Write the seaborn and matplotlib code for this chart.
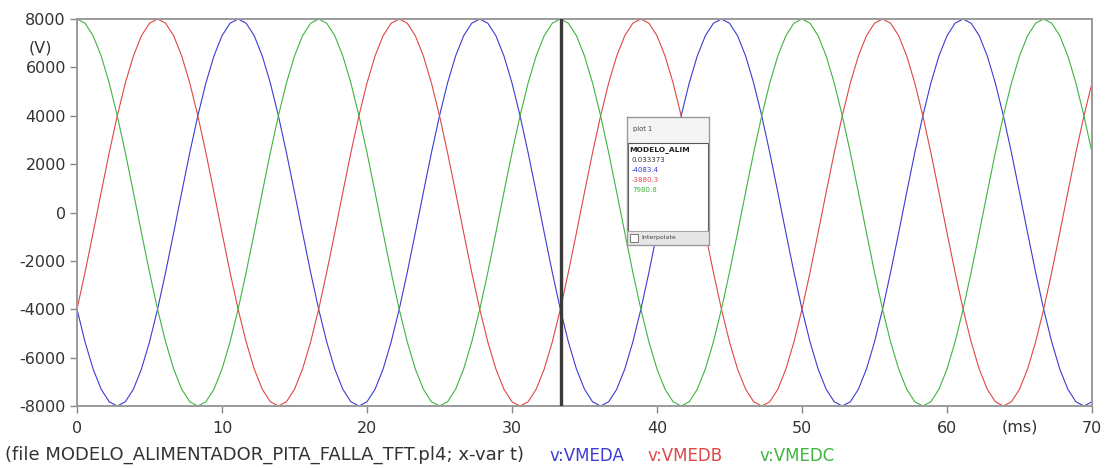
import numpy as np
import pandas as pd
import matplotlib
matplotlib.use("Agg")
import matplotlib.pyplot as plt
from matplotlib.patches import Rectangle
import seaborn as sns

# Sampled phase voltages (V), 126 steps over 0..70 ms
n_samples = 127
t_ms = np.linspace(0, 70, n_samples)

vmeda = [
    -4000, -5353, -6472, -7308, -7825, -8000, -7825, -7308, -6472, -5353, -4000, -2472, -836,
    836, 2472, 4000, 5353, 6472, 7308, 7825, 8000, 7825, 7308, 6472, 5353, 4000, 2472, 836,
    -836, -2472, -4000, -5353, -6472, -7308, -7825, -8000, -7825, -7308, -6472, -5353, -4000, -2472, -836,
    836, 2472, 4000, 5353, 6472, 7308, 7825, 8000, 7825, 7308, 6472, 5353, 4000, 2472, 836,
    -836, -2472, -4000, -5353, -6472, -7308, -7825, -8000, -7825, -7308, -6472, -5353, -4000, -2472, -836,
    836, 2472, 4000, 5353, 6472, 7308, 7825, 8000, 7825, 7308, 6472, 5353, 4000, 2472, 836,
    -836, -2472, -4000, -5353, -6472, -7308, -7825, -8000, -7825, -7308, -6472, -5353, -4000, -2472, -836,
    836, 2472, 4000, 5353, 6472, 7308, 7825, 8000, 7825, 7308, 6472, 5353, 4000, 2472, 836,
    -836, -2472, -4000, -5353, -6472, -7308, -7825, -8000, -7825,
]

vmedb = [
    -4000, -2472, -836,
    836, 2472, 4000, 5353, 6472, 7308, 7825, 8000, 7825, 7308, 6472, 5353, 4000, 2472, 836,
    -836, -2472, -4000, -5353, -6472, -7308, -7825, -8000, -7825, -7308, -6472, -5353, -4000, -2472, -836,
    836, 2472, 4000, 5353, 6472, 7308, 7825, 8000, 7825, 7308, 6472, 5353, 4000, 2472, 836,
    -836, -2472, -4000, -5353, -6472, -7308, -7825, -8000, -7825, -7308, -6472, -5353, -4000, -2472, -836,
    836, 2472, 4000, 5353, 6472, 7308, 7825, 8000, 7825, 7308, 6472, 5353, 4000, 2472, 836,
    -836, -2472, -4000, -5353, -6472, -7308, -7825, -8000, -7825, -7308, -6472, -5353, -4000, -2472, -836,
    836, 2472, 4000, 5353, 6472, 7308, 7825, 8000, 7825, 7308, 6472, 5353, 4000, 2472, 836,
    -836, -2472, -4000, -5353, -6472, -7308, -7825, -8000, -7825, -7308, -6472, -5353, -4000, -2472, -836,
    836, 2472, 4000, 5353,
]

vmedc = [
    8000, 7825, 7308, 6472, 5353, 4000, 2472, 836,
    -836, -2472, -4000, -5353, -6472, -7308, -7825, -8000, -7825, -7308, -6472, -5353, -4000, -2472, -836,
    836, 2472, 4000, 5353, 6472, 7308, 7825, 8000, 7825, 7308, 6472, 5353, 4000, 2472, 836,
    -836, -2472, -4000, -5353, -6472, -7308, -7825, -8000, -7825, -7308, -6472, -5353, -4000, -2472, -836,
    836, 2472, 4000, 5353, 6472, 7308, 7825, 8000, 7825, 7308, 6472, 5353, 4000, 2472, 836,
    -836, -2472, -4000, -5353, -6472, -7308, -7825, -8000, -7825, -7308, -6472, -5353, -4000, -2472, -836,
    836, 2472, 4000, 5353, 6472, 7308, 7825, 8000, 7825, 7308, 6472, 5353, 4000, 2472, 836,
    -836, -2472, -4000, -5353, -6472, -7308, -7825, -8000, -7825, -7308, -6472, -5353, -4000, -2472, -836,
    836, 2472, 4000, 5353, 6472, 7308, 7825, 8000, 7825, 7308, 6472, 5353, 4000, 2472,
]

series_names = ["v:VMEDA", "v:VMEDB", "v:VMEDC"]
series_colors = ["#3c3cd2", "#e04646", "#3fb43f"]
x_ticks = [0, 10, 20, 30, 40, 50, 60, 70]
y_ticks = [-8000, -6000, -4000, -2000, 0, 2000, 4000, 6000, 8000]

cursor_t = 33.373
cursor_vals = ["0.033373", "-4083.4", "-3880.3", "7980.8"]
file_caption = "(file MODELO_ALIMENTADOR_PITA_FALLA_TFT.pl4; x-var t)"

df = pd.concat(
    [pd.DataFrame({"t": t_ms, "v": vals, "series": name})
     for name, vals in zip(series_names, [vmeda, vmedb, vmedc])],
    ignore_index=True,
)

sns.set_theme(style="white")
plt.rcParams["font.family"] = ["DejaVu Sans"]

W, H = 1105, 468
fig = plt.figure(figsize=(W / 100, H / 100), dpi=100)
ax = fig.add_axes([77 / W, 1 - 406 / H, (1092 - 77) / W, (406 - 19) / H])

sns.lineplot(data=df, x="t", y="v", hue="series", palette=series_colors,
             hue_order=series_names, estimator=None, sort=False,
             linewidth=0.8, legend=False, ax=ax)

ax.axvline(cursor_t, color="#3a3a3a", linewidth=2.4, zorder=5)

ax.set_xlim(0, 70)
ax.set_ylim(-8000, 8000)
ax.set_xticks(x_ticks)
ax.set_yticks(y_ticks)
ax.set_xticklabels([str(v) for v in x_ticks])
ax.set_yticklabels([str(v) for v in y_ticks])
ax.set_xlabel("")
ax.set_ylabel("")
ax.tick_params(axis="both", which="both", direction="out", length=5, width=1,
               color="#888888", labelsize=11.5, labelcolor="#333333",
               bottom=True, left=True)
ax.tick_params(axis="x", pad=6)
ax.tick_params(axis="y", pad=3)
for sp in ax.spines.values():
    sp.set_color("#9a9a9a")
    sp.set_linewidth(1.4)

# unit labels sitting among the tick labels
ax.text(40 / W, 6800, "(V)", transform=ax.get_yaxis_transform().__class__(
    fig.transFigure, ax.transData), ha="center", va="center", fontsize=11.5,
    color="#333333")
ax.text(65, 1 - 427 / H, "(ms)", transform=matplotlib.transforms.blended_transform_factory(
    ax.transData, fig.transFigure), ha="center", va="center", fontsize=11.5,
    color="#333333")

# caption line with the series names
fig.text(5 / W, 1 - 455 / H, file_caption, fontsize=13, color="#333333",
         va="center", ha="left")
for name, color, xpix in zip(series_names, series_colors, [550, 648, 760]):
    fig.text(xpix / W, 1 - 456 / H, name, fontsize=12, color=color,
             va="center", ha="left")

# cursor value window
pax = fig.add_axes([627 / W, 1 - 245 / H, (709 - 627) / W, (245 - 117) / H])
pax.set_xlim(0, 82)
pax.set_ylim(128, 0)
pax.set_xticks([])
pax.set_yticks([])
for sp in pax.spines.values():
    sp.set_color("#9a9a9a")
    sp.set_linewidth(1.0)
pax.set_facecolor("#f4f4f4")
pax.add_patch(Rectangle((1, 26), 80, 88, facecolor="white", edgecolor="#555555",
                        linewidth=0.8))
pax.add_patch(Rectangle((0, 114), 82, 14, facecolor="#e6e6e6", edgecolor="#aaaaaa",
                        linewidth=0.6))
pax.add_patch(Rectangle((3, 117), 8, 8, facecolor="white", edgecolor="#666666",
                        linewidth=0.6))
pax.text(6, 12, "plot 1", fontsize=4.8, color="#444444", va="center")
pax.text(2, 33, "MODELO_ALIM", fontsize=5.4, color="#222222", va="center",
         fontweight="bold", clip_on=True)
popup_colors = ["#333333"] + series_colors
for i, (txt, col) in enumerate(zip(cursor_vals, popup_colors)):
    pax.text(5, 43 + 10 * i, txt, fontsize=5, color=col, va="center")
pax.text(14, 121, "Interpolate", fontsize=4.5, color="#444444", va="center")

fig.savefig("out.png", dpi=100)
